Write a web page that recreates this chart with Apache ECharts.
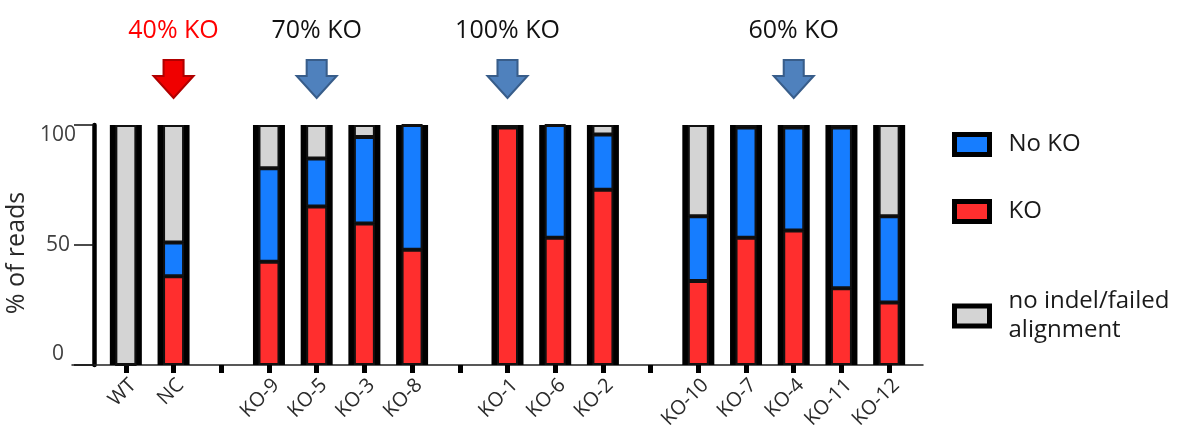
<!DOCTYPE html>
<html><head><meta charset="utf-8">
<script src="https://cdn.jsdelivr.net/npm/echarts@6/dist/echarts.min.js"></script>
<style>html,body{margin:0;padding:0;background:#fff}#c{width:1182px;height:428px}</style>
</head><body><div id="c"></div>
<script>
// ---- data ----
const categories   = ['WT','NC','','KO-9','KO-5','KO-3','KO-8','','KO-1','KO-6','KO-2','','KO-10','KO-7','KO-4','KO-11','KO-12'];
const koValues     = [0, 37, '-', 43, 66, 59, 48, '-', 99, 53, 73, '-', 35, 53, 56, 32, 26];
const noKoValues   = [0, 14, '-', 39, 20, 36, 52, '-', 0, 47, 23, '-', 27, 46, 43, 67, 36];
const failedValues = [100, 49, '-', 18, 14, 5, 0, '-', 1, 0, 4, '-', 38, 1, 1, 1, 38];
const yTicks = [0, 50, 100];
const annCats   = ['NC', 'KO-5', 'KO-1', 'KO-4'];
const annTexts  = ['40% KO', '70% KO', '100% KO', '60% KO'];
const annColors = ['red', 'blue', 'blue', 'blue'];

const FONT = "'Open Sans', sans-serif";
const RED = '#ff2e2e', BLUE = '#167dff', GRAY = '#d4d4d4';
const ARROW = 'path://M10,0 L30,0 L30,16 L40,16 L20,38 L0,16 L10,16 Z';
const arrowStyle = {
  red:  {fill: '#f00000', border: '#b00000', text: '#ff0000'},
  blue: {fill: '#4f81bd', border: '#385d8a', text: '#111111'}
};

const frameValues = categories.map(c => c === '' ? '-' : 100);
const annData = annCats.map((c, i) => {
  const s = arrowStyle[annColors[i]];
  return {
    value: [categories.indexOf(c), 0.5],
    itemStyle: {color: s.fill, borderColor: s.border, borderWidth: 2, opacity: 1},
    label: {color: s.text}
  };
});

const legendBase = {
  orient: 'vertical', padding: 0, itemWidth: 35, itemHeight: 20, icon: 'rect',
  selectedMode: false, left: 952,
  itemStyle: {borderColor: '#000', borderWidth: 5},
  textStyle: {fontSize: 24, fontFamily: FONT, color: '#1a1a1a', lineHeight: 29, padding: [0, 0, 0, 14]}
};

const chart = echarts.init(document.getElementById('c'), null, {renderer: 'canvas'});
chart.setOption({
  animation: false,
  backgroundColor: '#fff',
  grid: [
    {left: 102, right: 269, top: 125, bottom: 63, containLabel: false, outerBoundsMode: 'none'},
    {left: 102, right: 269, top: 60, height: 38, containLabel: false, outerBoundsMode: 'none'},
    {left: 72, right: 259, top: 125, bottom: 63, containLabel: false, outerBoundsMode: 'none'}
  ],
  xAxis: [
    {type: 'category', gridIndex: 0, data: categories,
     axisLine: {show: false},
     axisTick: {show: true, alignWithLabel: true, interval: 0, length: 8, lineStyle: {color: '#000', width: 5}},
     axisLabel: {interval: 0, rotate: 45, fontSize: 20, color: '#2a2a2a', margin: 10, fontFamily: FONT,
                 verticalAlign: 'top'}},
    {type: 'category', gridIndex: 0, data: categories, show: false},
    {type: 'category', gridIndex: 1, data: categories, show: false},
    {type: 'value', gridIndex: 2, min: 0, max: 1,
     axisLine: {show: true, lineStyle: {color: '#222', width: 1.5}},
     axisTick: {show: false}, axisLabel: {show: false}, splitLine: {show: false}}
  ],
  yAxis: [
    {type: 'value', gridIndex: 0, min: yTicks[0], max: yTicks[yTicks.length - 1], interval: yTicks[1] - yTicks[0], offset: 8,
     axisLine: {show: true, lineStyle: {color: '#000', width: 4.5}},
     axisTick: {show: true, length: 20, lineStyle: {color: '#111', width: 1.5}},
     splitLine: {show: false},
     axisLabel: {fontSize: 21, color: '#404040', fontFamily: FONT, align: 'center', margin: 36,
                 verticalAlignMinLabel: 'bottom', verticalAlignMaxLabel: 'top'},
     name: '% of reads', nameLocation: 'middle', nameRotate: 90, nameGap: 45,
     nameTextStyle: {fontSize: 25, color: '#2a2a2a', fontFamily: FONT, padding: [0, 16, 0, 0]}},
    {type: 'value', gridIndex: 1, min: 0, max: 1, show: false},
    {type: 'value', gridIndex: 2, min: 0, max: 1, show: false}
  ],
  legend: [
    Object.assign({}, legendBase, {data: ['No KO'], top: 130}),
    Object.assign({}, legendBase, {data: ['KO'], top: 197}),
    Object.assign({}, legendBase, {data: ['no indel/failed alignment'], top: 287,
      formatter: () => 'no indel/failed\nalignment'})
  ],
  series: [
    {type: 'bar', name: 'frame', xAxisIndex: 0, yAxisIndex: 0, data: frameValues, barWidth: 32,
     itemStyle: {color: '#000'}, z: 2, silent: true},
    {type: 'bar', name: 'KO', xAxisIndex: 1, yAxisIndex: 0, stack: 's', data: koValues, barWidth: 21,
     itemStyle: {color: RED, borderColor: '#111', borderWidth: 2}, z: 3},
    {type: 'bar', name: 'No KO', xAxisIndex: 1, yAxisIndex: 0, stack: 's', data: noKoValues, barWidth: 21,
     itemStyle: {color: BLUE, borderColor: '#111', borderWidth: 2}, z: 3},
    {type: 'bar', name: 'no indel/failed alignment', xAxisIndex: 1, yAxisIndex: 0, stack: 's', data: failedValues, barWidth: 21,
     itemStyle: {color: GRAY, borderColor: '#111', borderWidth: 2}, z: 3},
    {type: 'scatter', name: 'annotations', xAxisIndex: 2, yAxisIndex: 1, data: annData,
     symbol: ARROW, symbolSize: [40, 38], z: 4, silent: true,
     itemStyle: {opacity: 1},
     label: {show: true, position: 'top', distance: 16, fontSize: 25, fontFamily: FONT,
             formatter: p => annTexts[p.dataIndex]}}
  ]
});
</script>
</body></html>
